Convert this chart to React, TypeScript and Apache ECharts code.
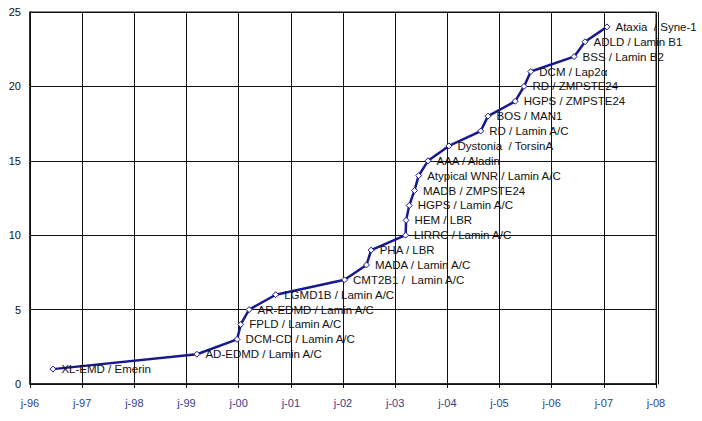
import React, { useEffect, useRef } from "react";
import * as echarts from "echarts";

const dates = [
  1996.44, 1999.2, 1999.97, 2000.04, 2000.2, 2000.71, 2002.03, 2002.45,
  2002.54, 2003.2, 2003.21, 2003.27, 2003.37, 2003.45, 2003.63, 2004.03,
  2004.64, 2004.78, 2005.3, 2005.47, 2005.6, 2006.43, 2006.64, 2007.06,
];
const counts = [
  1, 2, 3, 4, 5, 6, 7, 8, 9, 10, 11, 12, 13, 14, 15, 16, 17, 18, 19, 20, 21,
  22, 23, 24,
];
const pointLabels = [
  "XL-EMD / Emerin",
  "AD-EDMD / Lamin A/C",
  "DCM-CD / Lamin A/C",
  "FPLD / Lamin A/C",
  "AR-EDMD / Lamin A/C",
  "LGMD1B / Lamin A/C",
  "CMT2B1 /  Lamin A/C",
  "MADA / Lamin A/C",
  "PHA / LBR",
  "LIRRC / Lamin A/C",
  "HEM / LBR",
  "HGPS / Lamin A/C",
  "MADB / ZMPSTE24",
  "Atypical WNR / Lamin A/C",
  "AAA / Aladin",
  "Dystonia  / TorsinA",
  "RD / Lamin A/C",
  "BOS / MAN1",
  "HGPS / ZMPSTE24",
  "RD / ZMPSTE24",
  "DCM / Lap2\u03b1",
  "BSS / Lamin B2",
  "ADLD / Lamin B1",
  "Ataxia  / Syne-1",
];
const yearMin = 1996;
const yearMax = 2008;

export default function App() {
  const ref = useRef<HTMLDivElement>(null);
  useEffect(() => {
    if (!ref.current) return;
    const chart = echarts.init(ref.current, undefined, { renderer: "svg" });
    const navy = "#18188f";
    chart.setOption({
      animation: false,
      backgroundColor: "#ffffff",
      grid: {
        left: 30,
        right: 46,
        top: 12,
        bottom: 37,
        containLabel: false,
        show: true,
        borderColor: "#111",
        borderWidth: 1,
      },
      xAxis: {
        type: "value",
        min: yearMin,
        max: yearMax,
        interval: 1,
        axisLine: { show: true, onZero: false, lineStyle: { color: "#111", width: 1.5 } },
        axisTick: { show: true, inside: false, length: 4, lineStyle: { color: "#111" } },
        splitLine: { show: true, lineStyle: { color: "#111", width: 1 } },
        axisLabel: {
          color: "#2f3f8f",
          fontSize: 11,
          fontFamily: "Liberation Sans",
          margin: 13,
          formatter: (v: number) => "j-" + String(Math.round(v) % 100).padStart(2, "0"),
        },
      },
      yAxis: [
        {
          type: "value",
          min: 0,
          max: 25,
          interval: 5,
          axisLine: { show: true, lineStyle: { color: "#111", width: 1.5 } },
          axisTick: { show: false },
          splitLine: { show: true, lineStyle: { color: "#111", width: 1.2 } },
          axisLabel: {
            color: "#111",
            fontSize: 11,
            fontFamily: "Liberation Sans",
            margin: 9,
          },
        },
        {
          type: "value",
          min: 0,
          max: 25,
          interval: 5,
          position: "right",
          offset: 2,
          axisLine: { show: true, lineStyle: { color: "#111", width: 1 } },
          axisTick: { show: false },
          splitLine: { show: false },
          axisLabel: { show: false },
        },
      ],
      series: [
        {
          type: "line",
          data: dates.map((d, i) => [d, counts[i]]),
          symbol: "diamond",
          symbolSize: 6,
          showAllSymbol: true,
          lineStyle: { color: navy, width: 2.5 },
          itemStyle: { color: "#ffffff", borderColor: navy, borderWidth: 1 },
          label: {
            show: true,
            position: "right",
            distance: 5,
            color: "#111",
            fontSize: 11.5,
            fontFamily: "Liberation Sans",
            formatter: (p: any) => pointLabels[p.dataIndex],
          },
          z: 3,
        },
      ],
    });
    return () => chart.dispose();
  }, []);
  return (
    <div
      ref={ref}
      style={{ position: "absolute", left: 0, top: 0, width: 702, height: 421 }}
    />
  );
}
